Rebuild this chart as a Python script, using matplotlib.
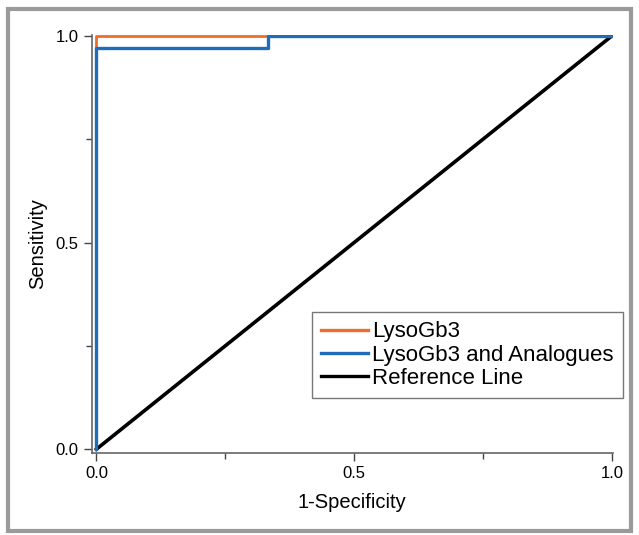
import matplotlib
matplotlib.use("Agg")
import matplotlib.pyplot as plt
from matplotlib.patches import Rectangle

plt.rcParams['font.family'] = ['Liberation Sans', 'DejaVu Sans']

# Data
lyso_x = [0.0, 0.0, 1.0]
lyso_y = [0.0, 1.0, 1.0]
analog_x = [0.0, 0.0, 0.333, 0.333, 1.0]
analog_y = [0.0, 0.97, 0.97, 1.0, 1.0]
ref_x = [0.0, 1.0]
ref_y = [0.0, 1.0]
labels = ["LysoGb3", "LysoGb3 and Analogues", "Reference Line"]
xticks = [0.0, 0.5, 1.0]
yticks = [0.0, 0.5, 1.0]
tick_labels = ["0.0", "0.5", "1.0"]
minor_ticks = [0.25, 0.75]

W, H = 639, 535
fig = plt.figure(figsize=(W / 100, H / 100), dpi=100)
fig.patches.append(Rectangle((0.013, 0.008), 0.974, 0.975, transform=fig.transFigure,
                             fill=False, edgecolor='#9a9a9a', linewidth=3.0))
ax = fig.add_axes([0.1432, 0.1542, 0.8161, 0.7804])

ax.plot(lyso_x, lyso_y, color='#F26B2C', lw=2.0, label=labels[0], zorder=3)
ax.plot(analog_x, analog_y, color='#1E6CBA', lw=2.4, label=labels[1], zorder=4)
ax.plot(ref_x, ref_y, color='black', lw=2.6, label=labels[2], zorder=2)

ax.set_xlim(-0.0095, 1.002)
ax.set_ylim(-0.008, 1.002)
for s in ['top', 'right']:
    ax.spines[s].set_visible(False)
for s in ['left', 'bottom']:
    ax.spines[s].set_color('#666666')
    ax.spines[s].set_linewidth(1.2)
ax.set_xticks(xticks)
ax.set_yticks(yticks)
ax.set_xticks(minor_ticks, minor=True)
ax.set_yticks(minor_ticks, minor=True)
ax.set_xticklabels(tick_labels)
ax.set_yticklabels(tick_labels)
ax.tick_params(which='major', length=6, width=1.0, color='#444444', labelsize=12)
ax.tick_params(axis='x', which='major', pad=4)
ax.tick_params(which='minor', length=4, width=1.0, color='#444444')
ax.set_xlabel("1-Specificity", fontsize=14.5, labelpad=8)
ax.set_ylabel("Sensitivity", fontsize=14.5, labelpad=6)

leg = ax.legend(loc='upper left', bbox_to_anchor=(312 / W, 1 - 312 / H),
                bbox_transform=fig.transFigure, fontsize=16,
                frameon=True, fancybox=False, edgecolor='#555555', handlelength=2.1,
                handletextpad=0.2, borderpad=0.42, labelspacing=0.1, borderaxespad=0)
leg.get_frame().set_linewidth(1.0)
for l in leg.get_lines():
    l.set_linewidth(2.4)

fig.savefig("out.png", dpi=100)
